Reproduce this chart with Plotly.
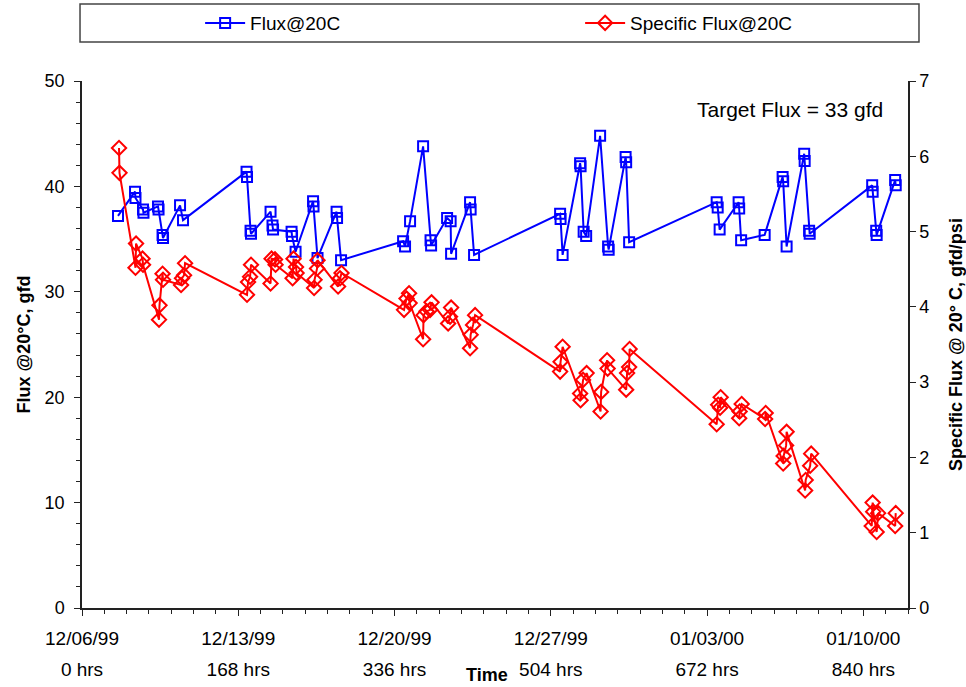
import plotly.graph_objects as go

# ---- data (hours since 12/06/99 00:00) ----
flux_hours = [38.7, 57.0, 57.5, 65.6, 66.1, 81.7, 82.3, 86.6, 87.1, 105.4,
              108.6, 176.9, 177.4, 181.2, 181.7, 202.7, 204.8, 205.4, 225.3, 225.8,
              229.6, 248.4, 248.9, 253.2, 273.7, 274.2, 278.5, 345.2, 347.3, 352.7,
              366.7, 374.7, 375.3, 392.5, 396.3, 396.8, 417.2, 417.8, 421.5, 514.0,
              514.5, 516.7, 535.5, 536.0, 539.3, 542.0, 557.0, 565.6, 566.2, 584.4,
              585.0, 588.2, 682.3, 683.4, 685.5, 705.9, 706.5, 708.6, 733.9, 753.2,
              753.8, 757.5, 776.4, 776.9, 781.7, 782.3, 849.5, 850.0, 853.8, 854.3,
              874.2, 874.8]
flux_values = [37.2, 39.5, 38.9, 37.8, 37.5, 38.1, 37.8, 35.4, 35.1, 38.2,
               36.8, 41.4, 40.9, 35.8, 35.5, 37.6, 36.3, 35.9, 35.7, 35.3,
               33.8, 38.6, 38.1, 33.2, 37.6, 37.0, 33.0, 34.8, 34.3, 36.7,
               43.8, 34.9, 34.4, 37.0, 36.7, 33.6, 38.5, 37.8, 33.5, 37.4,
               36.9, 33.5, 42.2, 41.9, 35.7, 35.3, 44.8, 34.3, 34.0, 42.8,
               42.3, 34.7, 38.5, 38.0, 35.9, 38.5, 37.9, 34.9, 35.4, 40.9,
               40.5, 34.3, 43.1, 42.4, 35.8, 35.5, 40.1, 39.5, 35.8, 35.4,
               40.6, 40.1]

sflux_hours = [39.8, 40.3, 57.5, 58.1, 65.1, 65.6, 82.8, 83.3, 86.6, 87.1,
               106.5, 107.5, 109.7, 110.8, 177.4, 178.5, 180.7, 181.7, 202.7, 203.8,
               207.5, 208.1, 226.4, 227.4, 230.1, 230.7, 249.5, 250.0, 252.7, 253.2,
               275.3, 277.4, 279.0, 346.2, 348.9, 351.6, 352.2, 366.7, 367.2, 370.4,
               374.2, 375.8, 393.6, 395.7, 396.8, 417.2, 417.8, 420.4, 422.6, 514.0,
               514.5, 516.7, 535.5, 536.0, 538.7, 542.5, 557.5, 558.1, 564.5, 565.1,
               585.0, 586.0, 588.2, 588.7, 682.3, 683.9, 686.0, 686.6, 706.5, 707.0,
               709.2, 734.4, 735.0, 753.8, 754.3, 757.0, 757.5, 777.4, 778.0, 782.8,
               783.9, 849.0, 850.0, 850.6, 854.3, 855.9, 874.2, 874.8]
sflux_values = [6.11, 5.78, 4.52, 4.84, 4.64, 4.56, 3.83, 4.02, 4.44, 4.36,
                4.29, 4.38, 4.42, 4.58, 4.16, 4.33, 4.40, 4.56, 4.31, 4.64,
                4.63, 4.56, 4.38, 4.64, 4.53, 4.45, 4.25, 4.36, 4.51, 4.62,
                4.27, 4.38, 4.45, 3.96, 4.11, 4.18, 4.05, 3.57, 3.89, 3.94,
                3.96, 4.06, 3.78, 3.87, 3.99, 3.45, 3.63, 3.76, 3.89, 3.14,
                3.27, 3.47, 2.85, 2.76, 3.03, 3.12, 2.61, 2.87, 3.29, 3.18,
                2.90, 3.12, 3.20, 3.44, 2.44, 2.70, 2.66, 2.80, 2.52, 2.61,
                2.71, 2.51, 2.59, 1.92, 2.02, 2.16, 2.34, 1.56, 1.70, 1.89,
                2.05, 1.09, 1.40, 1.28, 1.01, 1.26, 1.09, 1.26]

tick_hours = [0, 168, 336, 504, 672, 840]
tick_dates = ["12/06/99", "12/13/99", "12/20/99", "12/27/99", "01/03/00", "01/10/00"]
tick_hrs = ["0 hrs", "168 hrs", "336 hrs", "504 hrs", "672 hrs", "840 hrs"]
x_range = [0, 888]

FONT = "Liberation Sans, Arial, sans-serif"
AX = "#222222"

fig = go.Figure()
fig.add_trace(go.Scatter(
    x=flux_hours, y=flux_values, name="Flux@20C", mode="lines+markers",
    xaxis="x", yaxis="y",
    line=dict(color="#0000FF", width=2),
    marker=dict(symbol="square-open", size=10, color="#0000FF", line=dict(width=2, color="#0000FF")),
))
fig.add_trace(go.Scatter(
    x=sflux_hours, y=sflux_values, name="Specific Flux@20C", mode="lines+markers",
    xaxis="x2", yaxis="y2",
    line=dict(color="#FF0000", width=2),
    marker=dict(symbol="diamond-open", size=11, color="#FF0000", line=dict(width=2, color="#FF0000")),
))

fig.update_layout(
    width=966, height=687,
    margin=dict(l=82, r=58, t=81, b=79, autoexpand=False),
    paper_bgcolor="white", plot_bgcolor="white",
    font=dict(family=FONT, size=18, color="black"),
    showlegend=True,
    legend=dict(orientation="h", x=0.143, y=1.110, xanchor="left", yanchor="middle",
                entrywidth=325, entrywidthmode="pixels", bgcolor="rgba(0,0,0,0)",
                font=dict(size=19), itemwidth=40),
    xaxis=dict(range=x_range, tickmode="array", tickvals=tick_hours, ticktext=tick_dates,
               ticks="outside", ticklen=6, tickcolor=AX, showgrid=False, zeroline=False,
               showline=True, linecolor=AX, linewidth=1.5, ticklabelstandoff=6,
               tickfont=dict(size=19),
               minor=dict(tickmode="array", tickvals=list(range(0, 889, 24)),
                          ticks="outside", ticklen=4, tickcolor=AX, showgrid=False)),
    xaxis2=dict(range=x_range, overlaying="x", matches="x", anchor="y2", side="bottom",
                tickmode="array", tickvals=tick_hours, ticktext=tick_hrs,
                ticks="", showgrid=False, zeroline=False, showline=False,
                ticklabelstandoff=48, tickfont=dict(size=19)),
    yaxis=dict(range=[0, 50], tickmode="linear", tick0=0, dtick=10,
               ticks="outside", ticklen=6, tickcolor=AX, showgrid=False, zeroline=False,
               showline=True, linecolor=AX, linewidth=1.5, tickfont=dict(size=18),
               ticklabelstandoff=6,
               minor=dict(dtick=2, ticks="outside", ticklen=4, tickcolor=AX, showgrid=False),
               title=dict(text="<b>Flux @20°C, gfd</b>", font=dict(size=18), standoff=9)),
    yaxis2=dict(range=[0, 7], tickmode="linear", tick0=0, dtick=1, overlaying="y", side="right",
                anchor="x", ticks="outside", ticklen=6, tickcolor=AX, showgrid=False, zeroline=False,
                showline=True, linecolor=AX, linewidth=1.5, tickfont=dict(size=18),
                title=dict(text="<b>Specific Flux @ 20° C, gfd/psi</b>", font=dict(size=18), standoff=21)),
    annotations=[
        dict(text="Target Flux = 33 gfd", xref="paper", yref="paper", x=0.972, y=0.945,
             xanchor="right", yanchor="middle", showarrow=False, font=dict(size=21)),
        dict(text="<b>Time</b>", xref="paper", yref="paper", x=0.49, y=0,
             xanchor="center", yanchor="middle", yshift=-67, showarrow=False, font=dict(size=18)),
    ],
    shapes=[
        dict(type="rect", xref="paper", yref="paper", x0=-0.0024, x1=1.0133, y0=1.074, y1=1.146,
             line=dict(color="#444444", width=1.5), fillcolor="rgba(0,0,0,0)", layer="above"),
    ],
)

fig.write_html("out.html", config={"displayModeBar": False},
               post_script="document.body.style.margin='0';document.body.style.overflow='hidden';")
